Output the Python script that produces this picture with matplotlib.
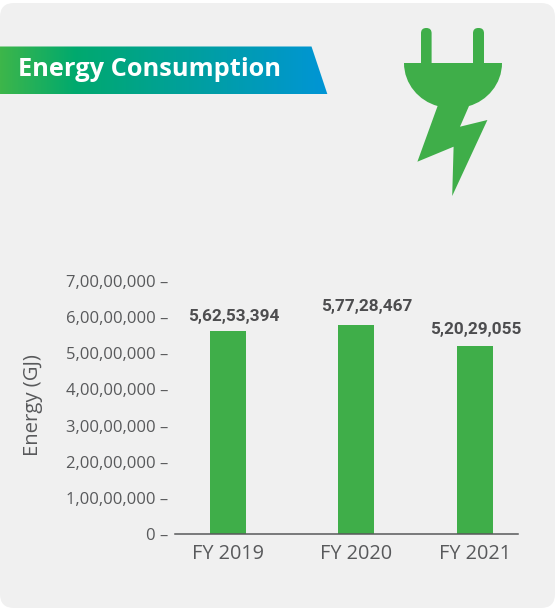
import numpy as np
import matplotlib
matplotlib.use("Agg")
import matplotlib.pyplot as plt
from matplotlib.colors import LinearSegmentedColormap
from matplotlib.patches import FancyBboxPatch, Polygon, PathPatch
from matplotlib.path import Path

categories = ["FY 2019", "FY 2020", "FY 2021"]
energy_gj = [56253394, 57728467, 52029055]
value_labels = ["5,62,53,394", "5,77,28,467", "5,20,29,055"]
y_ticks = [0, 10000000, 20000000, 30000000, 40000000, 50000000, 60000000, 70000000]
y_tick_labels = ["0 –", "1,00,00,000 –", "2,00,00,000 –", "3,00,00,000 –",
                 "4,00,00,000 –", "5,00,00,000 –", "6,00,00,000 –", "7,00,00,000 –"]
title = "Energy Consumption"
y_title = "Energy (GJ)"

W, H = 556, 611
GREY = "#58595b"
GREEN = "#3fae49"
SANS = "Open Sans"

fig = plt.figure(figsize=(W / 100, H / 100), dpi=100, facecolor="white")

# Full-figure decorative layer in pixel coordinates
bg = fig.add_axes([0, 0, 1, 1])
bg.set_xlim(0, W)
bg.set_ylim(H, 0)
bg.axis("off")
bg.add_patch(FancyBboxPatch((14, 3 + 14), W - 1 - 28, 605 - 28,
                            boxstyle="round,pad=14,rounding_size=14",
                            fc="#f0f0f0", ec="none"))

# Banner with gradient
cmap = LinearSegmentedColormap.from_list(
    "banner", [(0, "#3db64a"), (0.23, "#00a96e"), (1, "#0095d6")])
grad = np.linspace(0, 1, 512).reshape(1, -1)
im = bg.imshow(grad, extent=(0, 327.5, 94.5, 46.5), cmap=cmap, aspect="auto", zorder=2)
clip = Polygon([(0, 46.5), (311.5, 46.5), (327.5, 94.5), (0, 94.5)],
               closed=True, transform=bg.transData, fc="none", ec="none")
bg.add_patch(clip)
im.set_clip_path(clip)
bg.set_xlim(0, W)
bg.set_ylim(H, 0)
bg.text(18.5, 76, title, color="white", fontsize=18.3, fontweight="bold",
        family=SANS, ha="left", va="baseline", zorder=3)

# Plug icon
bg.add_patch(FancyBboxPatch((421 + 5.2, 28 + 5.2), 0.2, 35, boxstyle="round,pad=5.2,rounding_size=5.2",
                            fc=GREEN, ec="none", zorder=2))
bg.add_patch(FancyBboxPatch((473 + 5.4, 28 + 5.4), 0.2, 35, boxstyle="round,pad=5.4,rounding_size=5.2",
                            fc=GREEN, ec="none", zorder=2))
verts = [(404, 63), (502, 63),
         (502, 84), (487, 101), (469, 106),
         (460, 126.7), (487.4, 120), (452.2, 196), (453.6, 146.7), (417.4, 161.7), (437.6, 106),
         (419, 101), (404, 84), (404, 63), (404, 63)]
codes = [Path.MOVETO, Path.LINETO,
         Path.CURVE4, Path.CURVE4, Path.CURVE4,
         Path.LINETO, Path.LINETO, Path.LINETO, Path.LINETO, Path.LINETO, Path.LINETO,
         Path.CURVE4, Path.CURVE4, Path.CURVE4, Path.CLOSEPOLY]
bg.add_patch(PathPatch(Path(verts, codes), fc=GREEN, ec="none", zorder=2))

# Chart axes
left, right, bottom, top = 175, 518, 534, 281
ax = fig.add_axes([left / W, 1 - bottom / H, (right - left) / W, (bottom - top) / H])
ax.patch.set_alpha(0)
slots = [0, 1.03, 1.99]
ax.bar(slots, energy_gj, width=0.29, color=GREEN, zorder=2)
ax.set_xlim(-0.43, 2.34)
ax.set_ylim(0, 70000000)
for s in ["top", "right", "left"]:
    ax.spines[s].set_visible(False)
ax.spines["bottom"].set_color(GREY)
ax.spines["bottom"].set_linewidth(1.1)
ax.spines["bottom"].set_zorder(3)
ax.set_xticks(slots, categories, fontsize=14.3, color=GREY, family=SANS)
ax.set_yticks(y_ticks, y_tick_labels, fontsize=12, color=GREY, family=SANS)
ax.tick_params(axis="both", length=0)
ax.tick_params(axis="x", pad=7)
ax.tick_params(axis="y", pad=5)
ax.set_ylabel(y_title, fontsize=14.6, color=GREY, family=SANS)
ax.yaxis.set_label_coords((43 - left) / (right - left), (bottom - 405) / (bottom - top))

# Value labels, offsets in points from each bar top
offsets = [(4, 6.7), (7.6, 10.3), (0.5, 8.3)]
for x, v, lab, off in zip(slots, energy_gj, value_labels, offsets):
    ax.annotate(lab, (x, v), xytext=off, textcoords="offset points",
                ha="center", va="baseline", fontsize=12.4, fontweight="bold",
                color="#4d4d4f", family="Roboto")

fig.savefig("out.png", dpi=100, facecolor="white")
